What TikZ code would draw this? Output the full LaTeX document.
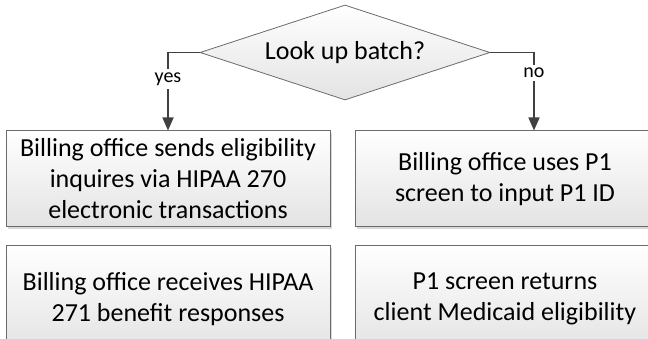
\documentclass[tikz,border=0pt]{standalone}
\usepackage{fontspec}
\setmainfont{Carlito}
\usepackage{xcolor}
\usepackage{tikz}
\usetikzlibrary{positioning}
\usetikzlibrary{shapes.geometric}
\usetikzlibrary{arrows.meta}
\usetikzlibrary{shadows}
\definecolor{edgegray}{rgb}{0.42,0.42,0.42}
\definecolor{linegray}{rgb}{0.25,0.25,0.25}
\definecolor{fillgray}{rgb}{0.89,0.89,0.89}
\tikzset{%
  boxstep/.style={rectangle,draw=edgegray,top color=white,bottom color=fillgray,line width=1pt,inner sep=0pt,minimum width=324pt,minimum height=96pt,align=center,font=\fontsize{26}{31}\selectfont,drop shadow={shadow xshift=1.5pt,shadow yshift=-2.5pt,fill=black!30,opacity=0.5}}
}
\tikzset{%
  boxdecide/.style={diamond,draw=edgegray,top color=white,bottom color=fillgray,line width=0.8pt,inner sep=0pt,aspect=3,minimum width=290pt,minimum height=95pt,font=\fontsize{26}{31}\selectfont}
}
\tikzset{%
  arrline/.style={draw=linegray,line width=1.6pt,-{Triangle[length=13pt,width=11pt]}}
}
\newcommand\lblfont{\fontsize{20}{24}\selectfont}

\begin{document}
\begin{tikzpicture}[x=1pt,y=-1pt,node distance=18pt and 24pt]
  \useasboundingbox (0,0) rectangle (648,339);
  \clip (0,0) rectangle (648,339);
  \node[boxdecide](decide) at (345,52.5){Look up batch?};
  \node[boxstep](sendbox) at (168,179){Billing office sends eligibility\\inquires via HIPAA 270\\electronic transactions};
  \node[boxstep,minimum width=300pt,right=of sendbox](usebox){Billing office uses P1\\screen to input P1 ID};
  \node[boxstep,minimum height=106pt,below=of sendbox](recvbox){Billing office receives HIPAA\\271 benefit responses};
  \node[boxstep,minimum width=300pt,minimum height=106pt,below=of usebox](retbox){P1 screen returns\\client Medicaid eligibility};
  \coordinate[right=29pt of usebox.north](noend);
  \draw[arrline](decide.west) -| node[pos=0.67,fill=white,font=\lblfont](yeslabel){yes} (sendbox.north);
  \draw[arrline](decide.east) -| node[pos=0.63,fill=white,font=\lblfont](nolabel){no} (noend);
\end{tikzpicture}
\end{document}
